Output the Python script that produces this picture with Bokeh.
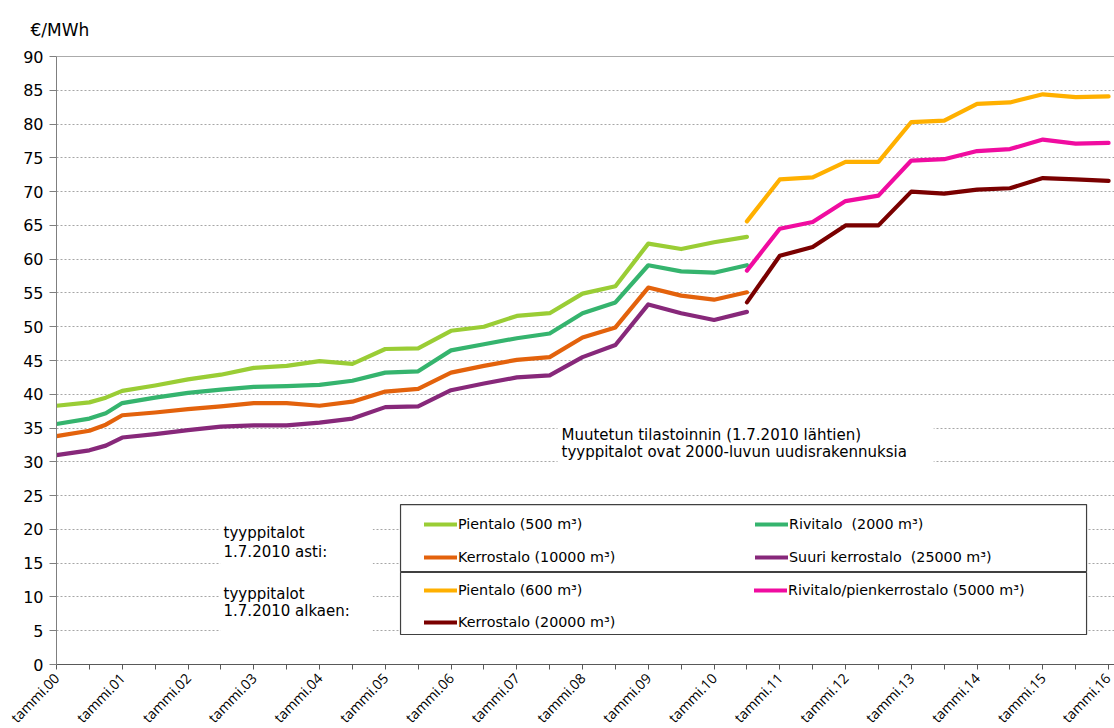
from bokeh.plotting import figure
from bokeh.models import (Range1d, FixedTicker, Legend, LegendItem, Label,
                          BoxAnnotation, Span)
from bokeh.embed import file_html
from bokeh.resources import INLINE

# --- Kaukolämmön hinta tyyppitaloille, €/MWh ---------------------------------
# x = vuosia tammikuusta 2000
old_x = [0.0, 0.5, 0.75, 1.0, 1.5, 2.0, 2.5, 3.0, 3.5, 4.0, 4.5, 5.0, 5.5,
         6.0, 6.5, 7.0, 7.5, 8.0, 8.5, 9.0, 9.5, 10.0, 10.5]
new_x = [10.5, 11.0, 11.5, 12.0, 12.5, 13.0, 13.5, 14.0, 14.5, 15.0, 15.5, 16.0]

# tyyppitalot 1.7.2010 asti
pientalo_500 = [38.3, 38.8, 39.5, 40.5, 41.3, 42.2, 42.9, 43.9, 44.2, 44.9, 44.5,
                46.7, 46.8, 49.4, 50.0, 51.6, 52.0, 54.9, 56.0, 62.3, 61.5, 62.5, 63.3]
rivitalo_2000 = [35.6, 36.4, 37.2, 38.7, 39.5, 40.2, 40.7, 41.1, 41.2, 41.4, 42.0,
                 43.2, 43.4, 46.5, 47.4, 48.3, 49.0, 52.0, 53.6, 59.1, 58.2, 58.0, 59.1]
kerrostalo_10000 = [33.8, 34.6, 35.5, 36.9, 37.3, 37.8, 38.2, 38.7, 38.7, 38.3, 38.9,
                    40.4, 40.8, 43.2, 44.2, 45.1, 45.5, 48.4, 49.9, 55.8, 54.6, 54.0, 55.1]
suuri_kerrostalo_25000 = [31.0, 31.7, 32.4, 33.6, 34.1, 34.7, 35.2, 35.4, 35.4, 35.8,
                          36.4, 38.1, 38.2, 40.6, 41.6, 42.5, 42.8, 45.5, 47.3, 53.3,
                          52.0, 51.0, 52.2]

# tyyppitalot 1.7.2010 alkaen
pientalo_600 = [65.6, 71.8, 72.1, 74.4, 74.4, 80.3, 80.5, 83.0, 83.2, 84.4, 84.0, 84.1]
rivitalo_5000 = [58.3, 64.5, 65.5, 68.6, 69.4, 74.6, 74.8, 76.0, 76.3, 77.7, 77.1, 77.2]
kerrostalo_20000 = [53.6, 60.5, 61.8, 65.0, 65.0, 70.0, 69.7, 70.3, 70.5, 72.0, 71.8, 71.6]

year_ticks = [0, 1, 2, 3, 4, 5, 6, 7, 8, 9, 10, 11, 12, 13, 14, 15, 16]
year_labels = ["tammi.00", "tammi.01", "tammi.02", "tammi.03", "tammi.04",
               "tammi.05", "tammi.06", "tammi.07", "tammi.08", "tammi.09",
               "tammi.10", "tammi.11", "tammi.12", "tammi.13", "tammi.14",
               "tammi.15", "tammi.16"]
half_year_ticks = [0.5, 1.5, 2.5, 3.5, 4.5, 5.5, 6.5, 7.5, 8.5, 9.5, 10.5, 11.5,
                   12.5, 13.5, 14.5, 15.5]
value_ticks = [0, 5, 10, 15, 20, 25, 30, 35, 40, 45, 50, 55, 60, 65, 70, 75, 80, 85, 90]

old_series = [
    ("Pientalo (500 m³)", pientalo_500, "#9ACD35"),
    ("Rivitalo  (2000 m³)", rivitalo_2000, "#35B46E"),
    ("Kerrostalo (10000 m³)", kerrostalo_10000, "#E3620C"),
    ("Suuri kerrostalo  (25000 m³)", suuri_kerrostalo_25000, "#87287A"),
]
new_series = [
    ("Pientalo (600 m³)", pientalo_600, "#FFB000"),
    ("Rivitalo/pienkerrostalo (5000 m³)", rivitalo_5000, "#F00CA0"),
    ("Kerrostalo (20000 m³)", kerrostalo_20000, "#7A0000"),
]

FONT = "DejaVu Sans"

p = figure(frame_width=1058, frame_height=608,
           min_border_left=56, min_border_right=0,
           min_border_top=56, min_border_bottom=64,
           x_range=Range1d(0, 16.09), y_range=Range1d(0, 90),
           output_backend="svg", toolbar_location=None,
           background_fill_color="white", border_fill_color="white")
p.outline_line_color = None

# unit shown as the title, top left
p.title.text = "€/MWh"
p.title.align = "left"
p.title.offset = -26
p.title.standoff = 34
p.title.text_font = FONT
p.title.text_font_size = "17px"
p.title.text_font_style = "normal"
p.title.text_color = "#000000"

# axes
p.yaxis.ticker = FixedTicker(ticks=value_ticks)
p.yaxis.axis_line_color = "#7F7F7F"
p.yaxis.major_tick_line_color = "#7F7F7F"
p.yaxis.major_tick_out = 7
p.yaxis.major_tick_in = 0
p.yaxis.minor_tick_line_color = None
p.yaxis.major_label_text_font = FONT
p.yaxis.major_label_text_font_size = "16px"
p.yaxis.major_label_text_color = "#000000"
p.yaxis.major_label_standoff = 6

p.xaxis.ticker = FixedTicker(ticks=year_ticks, minor_ticks=half_year_ticks)
p.xaxis.major_label_overrides = {t: lab for t, lab in zip(year_ticks, year_labels)}
p.xaxis.axis_line_color = "#595959"
p.xaxis.major_tick_line_color = "#595959"
p.xaxis.minor_tick_line_color = "#595959"
p.xaxis.major_tick_out = 5
p.xaxis.major_tick_in = 0
p.xaxis.minor_tick_out = 5
p.xaxis.minor_tick_in = 0
p.xaxis.major_label_orientation = 0.8
p.xaxis.major_label_text_font = "Open Sans"
p.xaxis.major_label_text_font_size = "14px"
p.xaxis.major_label_text_color = "#000000"
p.xaxis.major_label_standoff = 6

p.xgrid.grid_line_color = None
p.ygrid.grid_line_color = "#A6A6A6"
p.ygrid.grid_line_dash = "2 2"
p.ygrid.grid_line_width = 1

p.add_layout(Span(location=90, dimension="width", line_color="#595959",
                  line_width=1.2))

# series
old_items, new_items = [], []
for name, ys, color in old_series:
    r = p.line(old_x, ys, line_color=color, line_width=4.2, line_join="round",
               line_cap="round")
    old_items.append(LegendItem(label=name, renderers=[r]))
for name, ys, color in new_series:
    r = p.line(new_x, ys, line_color=color, line_width=4.2, line_join="round",
               line_cap="round")
    new_items.append(LegendItem(label=name, renderers=[r]))

# white boxes behind the notes and the legend
for left, right, top, bottom, line in [
    (2.49, 4.81, 21.9, 3.55, None),
    (7.62, 13.34, 36.1, 29.0, None),
    (5.232, 15.665, 23.68, 13.77, "#404040"),
    (5.232, 15.665, 13.62, 4.44, "#404040"),
]:
    p.add_layout(BoxAnnotation(left=left, right=right, top=top, bottom=bottom,
                               fill_color="white", fill_alpha=1.0,
                               line_color=line, line_width=1.2,
                               line_alpha=1.0 if line else 0.0))

legend_style = dict(ncols=2, orientation="horizontal", padding=0, margin=0,
                    border_line_alpha=0, background_fill_alpha=0,
                    glyph_width=33, glyph_height=20, label_height=20,
                    label_standoff=1, label_width=284,
                    label_text_font=FONT,
                    label_text_font_size="14.3px", label_text_color="#000000")
p.add_layout(Legend(items=old_items, location=(368, 97), spacing=13,
                    **legend_style))
p.add_layout(Legend(items=new_items, location=(368, 32), spacing=12,
                    **legend_style))

# texts
note_style = dict(text_font=FONT, text_font_size="15px",
                  text_color="#000000", text_baseline="middle", text_align="left")
for y, txt in [(19.4, "tyyppitalot"), (16.7, "1.7.2010 asti:"),
               (10.5, "tyyppitalot"), (7.85, "1.7.2010 alkaen:")]:
    p.add_layout(Label(x=2.54, y=y, text=txt, **note_style))
for y, txt in [(34.0, "Muutetun tilastoinnin (1.7.2010 lähtien)"),
               (31.4, "tyyppitalot ovat 2000-luvun uudisrakennuksia")]:
    p.add_layout(Label(x=7.68, y=y, text=txt, **note_style))

open("out.html", "w").write(file_html(p, INLINE))
